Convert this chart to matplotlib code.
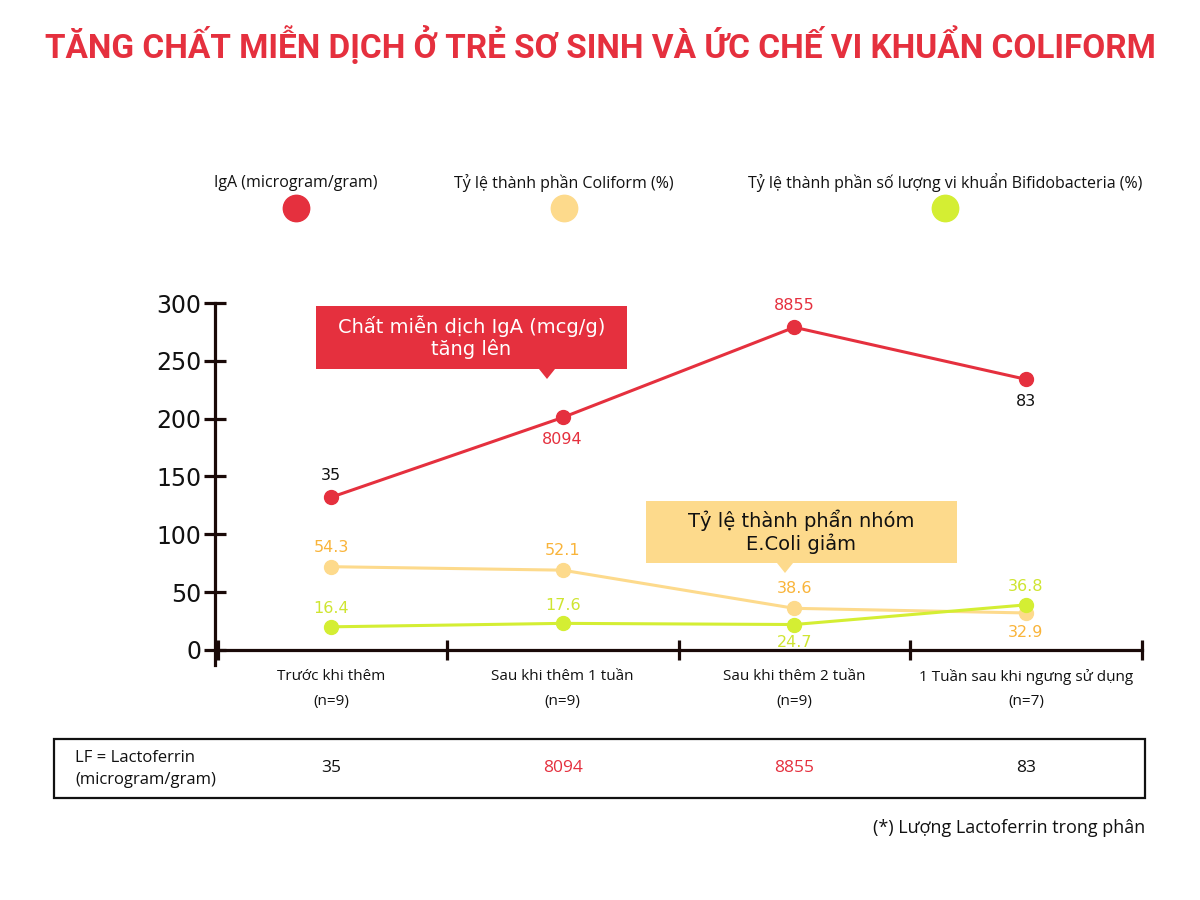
import matplotlib
matplotlib.use("Agg")
import matplotlib.pyplot as plt
import matplotlib.transforms as mtransforms
from matplotlib.patches import Polygon, Rectangle
from matplotlib.lines import Line2D

plt.rcParams["font.family"] = ["Open Sans", "DejaVu Sans"]

# ── Data ──────────────────────────────────────────────────────────────────────
categories = ["Trước khi thêm", "Sau khi thêm 1 tuần",
              "Sau khi thêm 2 tuần", "1 Tuần sau khi ngưng sử dụng"]
n_labels = ["(n=9)", "(n=9)", "(n=9)", "(n=7)"]

iga = [132, 201, 279, 234]
iga_labels = ["35", "8094", "8855", "83"]
coliform = [72, 69, 36, 32]
coliform_labels = ["54.3", "52.1", "38.6", "32.9"]
bifido = [20, 23, 22, 39]
bifido_labels = ["16.4", "17.6", "24.7", "36.8"]
lf_values = ["35", "8094", "8855", "83"]

series_names = ["IgA (microgram/gram)", "Tỷ lệ thành phần Coliform (%)",
                "Tỷ lệ thành phần số lượng vi khuẩn Bifidobacteria (%)"]
yticks = [0, 50, 100, 150, 200, 250, 300]

# ── Styles ────────────────────────────────────────────────────────────────────
RED = "#E5303E"
YEL = "#FDDA8C"
YEL_TXT = "#F9B43A"
LIME = "#D4EE33"
LIME_TXT = "#CFE531"
DARK = "#1A0A08"
INK = "#111111"
WIDE = ["DejaVu Sans"]

W, H = 1200, 900


def fx(px):
    return px / W


def fy(py):
    return 1 - py / H


fig = plt.figure(figsize=(12, 9), dpi=100)
fig.patch.set_facecolor("white")

# title
fig.text(fx(600), fy(45), "TĂNG CHẤT MIỄN DỊCH Ở TRẺ SƠ SINH VÀ ỨC CHẾ VI KHUẨN COLIFORM",
         ha="center", va="center", color=RED, fontsize=24, fontweight="bold",
         family=["Roboto", "DejaVu Sans"])

# legend
for name, col, xpos in zip(series_names, [RED, YEL, LIME], [296, 564, 945]):
    fig.text(fx(xpos), fy(183), name, ha="center", va="center", fontsize=11.5, color=INK)
    fig.add_artist(Line2D([fx(xpos)], [fy(208)], marker="o", markersize=19,
                          color=col, transform=fig.transFigure))

# ── Main axes ─────────────────────────────────────────────────────────────────
ax = fig.add_axes([fx(215.2), fy(665), (1141.8 - 215.2) / W, (665 - 303) / H])
ax.set_xlim(-0.5, 3.5)
ax.set_ylim(-13, 300)
ax.set_facecolor("none")

for s in ["top", "right"]:
    ax.spines[s].set_visible(False)
ax.spines["left"].set_color(DARK)
ax.spines["left"].set_linewidth(2.3)
ax.spines["bottom"].set_position(("data", 0))
ax.spines["bottom"].set_color(DARK)
ax.spines["bottom"].set_linewidth(2.3)
ax.spines["bottom"].set_bounds(-0.49, 3.5)

ax.set_yticks(yticks)
ax.set_yticklabels([str(v) for v in yticks], family=WIDE)
ax.tick_params(axis="y", direction="inout", length=16, width=2.3, color=DARK,
               labelsize=17, pad=2, labelcolor=INK)
ax.set_xticks([-0.49, 0.5, 1.5, 2.5, 3.5])
ax.set_xticklabels([])
ax.tick_params(axis="x", direction="inout", length=14, width=2.3, color=DARK)

xs = list(range(len(categories)))
ax.plot(xs, iga, color=RED, lw=2.2, marker="o", markersize=10, zorder=4)
ax.plot(xs, coliform, color=YEL, lw=2.2, marker="o", markersize=10, zorder=3)
ax.plot(xs, bifido, color=LIME, lw=2.2, marker="o", markersize=10, zorder=3.5)

tr = mtransforms.blended_transform_factory(ax.transData, fig.transFigure)

iga_side = [1, -1, 1, -1]
iga_col = [INK, RED, RED, INK]
col_side = [1, 1, 1, -1]
bif_side = [1, 1, -1, 1]
for i in xs:
    ax.annotate(iga_labels[i], (i, iga[i]), xytext=(0, 16 * iga_side[i]),
                textcoords="offset points", ha="center", va="center",
                fontsize=11.5, color=iga_col[i], family=WIDE)
    ax.annotate(coliform_labels[i], (i, coliform[i]), xytext=(0, 14 * col_side[i]),
                textcoords="offset points", ha="center", va="center",
                fontsize=11.5, color=YEL_TXT, family=WIDE)
    ax.annotate(bifido_labels[i], (i, bifido[i]), xytext=(0, 13 * bif_side[i]),
                textcoords="offset points", ha="center", va="center",
                fontsize=11.5, color=LIME_TXT, family=WIDE)
    ax.text(i, fy(677), categories[i], transform=tr,
            ha="center", va="center", fontsize=11, color=INK)
    ax.text(i, fy(702), n_labels[i], transform=tr,
            ha="center", va="center", fontsize=11, color=INK)


# ── Callouts ──────────────────────────────────────────────────────────────────
def callout(x0, y0, x1, y1, tip_x, tip_y, color, lines, txtcolor):
    tip_w = 8
    pts = [(x0, y0), (x1, y0), (x1, y1), (tip_x + tip_w, y1), (tip_x, tip_y),
           (tip_x - tip_w, y1), (x0, y1)]
    fig.add_artist(Polygon([(fx(a), fy(b)) for a, b in pts], closed=True,
                           facecolor=color, edgecolor="none", transform=fig.transFigure))
    cx = (x0 + x1) / 2
    fig.text(fx(cx), fy((y0 + y1) / 2), lines, ha="center", va="center",
             fontsize=14, color=txtcolor, linespacing=1.15, family=WIDE)


callout(316, 306, 627, 369, 547, 379, RED, "Chất miễn dịch IgA (mcg/g)\ntăng lên", "white")
callout(646, 501, 957, 563, 785, 573, YEL, "Tỷ lệ thành phẩn nhóm\nE.Coli giảm", INK)

# ── Lactoferrin table ─────────────────────────────────────────────────────────
fig.add_artist(Rectangle((fx(54), fy(798)), (1145 - 54) / W, (798 - 739) / H,
                         fill=False, edgecolor=INK, linewidth=1.6,
                         transform=fig.transFigure))
fig.text(fx(75), fy(769), "LF = Lactoferrin\n(microgram/gram)", ha="left", va="center",
         fontsize=12, color=INK, linespacing=1.45)
lf_col = [INK, RED, RED, INK]
for i in xs:
    ax.text(i, fy(768), lf_values[i], transform=tr, ha="center", va="center",
            fontsize=12.5, color=lf_col[i])

fig.text(fx(1145), fy(828), "(*) Lượng Lactoferrin trong phân", ha="right", va="center",
         fontsize=13, color=INK)

fig.savefig("out.png", dpi=100)
